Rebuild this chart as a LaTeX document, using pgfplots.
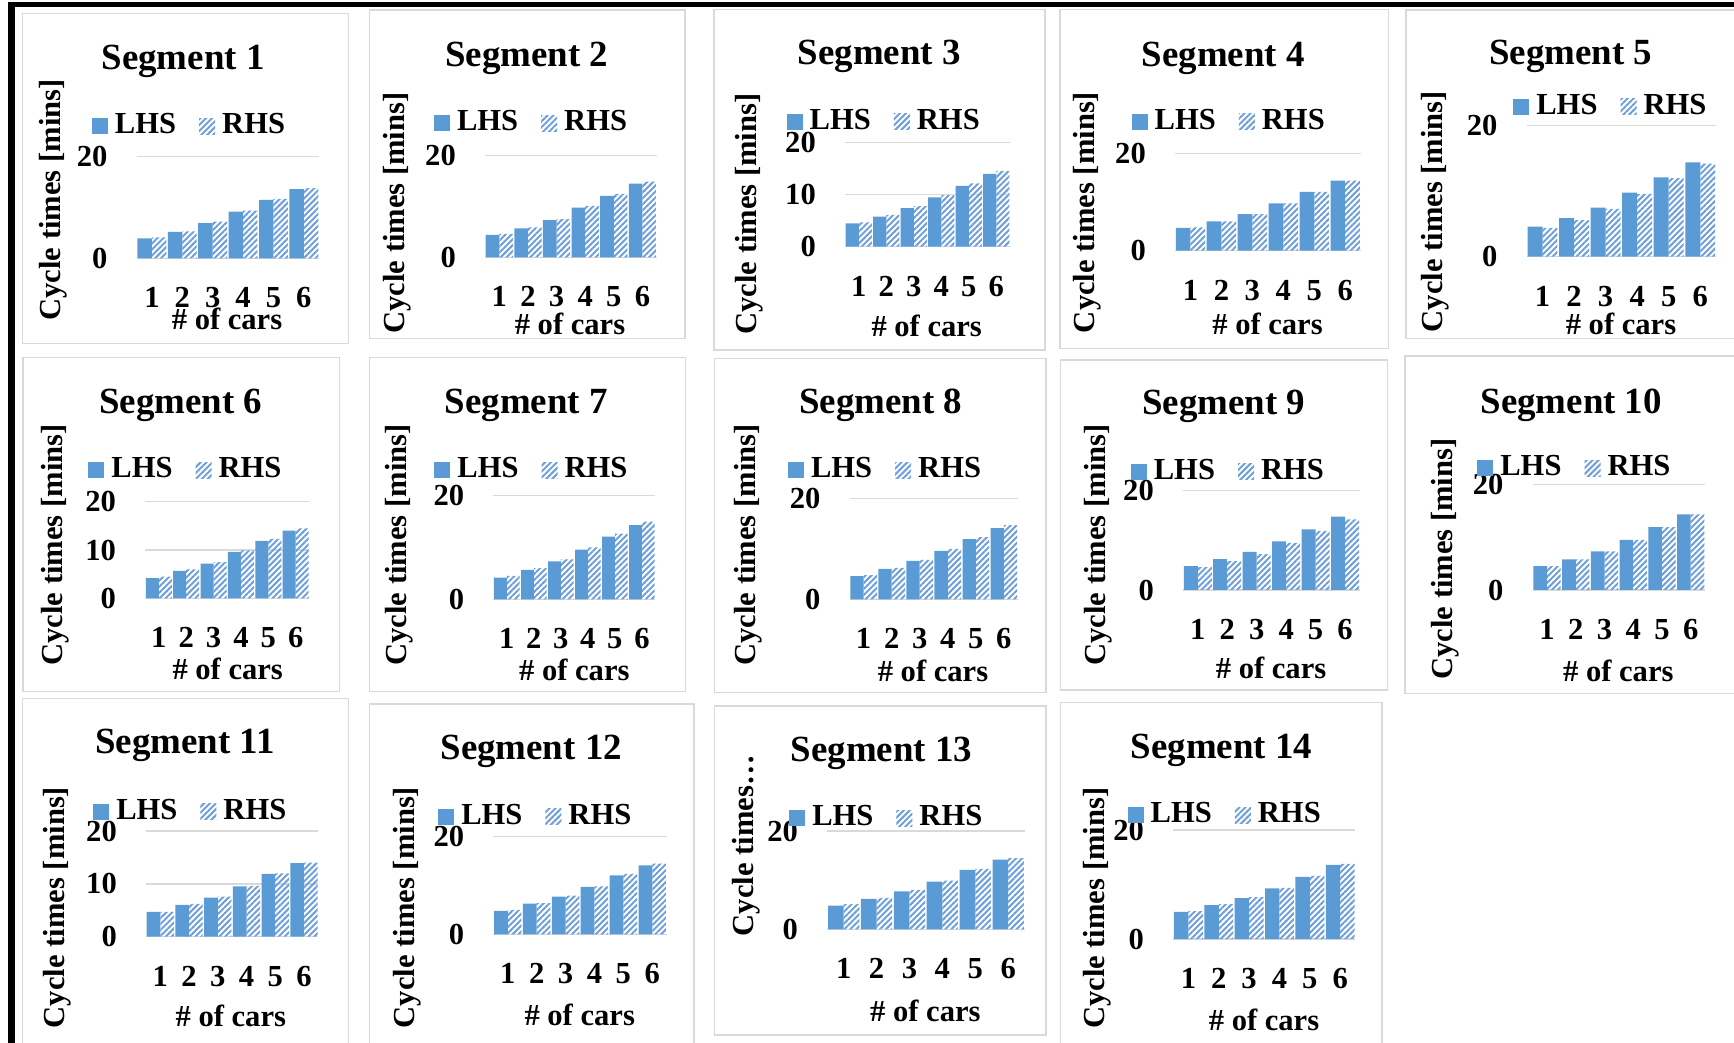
\documentclass[border=0pt]{standalone}
\usepackage{fontspec}
\setmainfont{Liberation Serif}
\usepackage{pgfplots}
\pgfplotsset{compat=1.18}
\usetikzlibrary{patterns.meta}

\definecolor{lhsblue}{HTML}{5B9BD5}
\definecolor{rhsblue}{HTML}{6F9FDB}
\definecolor{panelgray}{HTML}{D9D9D9}
\definecolor{gridgray}{HTML}{D9D9D9}

\newcommand\labfont{\fontsize{8.7}{10}\selectfont\bfseries}
\newcommand\titlefont{\fontsize{10.5}{12}\selectfont\bfseries}

% Panel geometry in units of 0.1 mm, measured from the top-left corner, y downwards
\pgfkeys{
  /seg/.is family,
  /seg/box/.code args={#1,#2,#3,#4}{\def\sgBL{#1}\def\sgBT{#2}\def\sgBR{#3}\def\sgBB{#4}},
  /seg/plot/.code args={#1,#2,#3,#4}{\def\sgPL{#1}\def\sgPR{#2}\def\sgPT{#3}\def\sgPB{#4}},
  /seg/title/.code args={#1,#2}{\def\sgTX{#1}\def\sgTY{#2}},
  /seg/legend/.code args={#1,#2}{\def\sgLX{#1}\def\sgLY{#2}},
  /seg/ylab/.code args={#1,#2}{\def\sgYX{#1}\def\sgYY{#2}},
  /seg/xlab/.code args={#1,#2}{\def\sgXX{#1}\def\sgXY{#2}},
}
% the legend box reaches below the text baseline by the font's descender
\def\sgLegDepth{6.2}
\newcommand\seggeom[1]{%
  \pgfqkeys{/seg}{#1}%
  \pgfmathsetmacro\sgW{(\sgPR-\sgPL)/10}%
  \pgfmathsetmacro\sgH{(\sgPB-\sgPT)/10}%
  \pgfmathsetmacro\sgTFX{(\sgTX-\sgPL)/(\sgPR-\sgPL)}%
  \pgfmathsetmacro\sgTFY{(\sgPB-\sgTY)/(\sgPB-\sgPT)}%
  \pgfmathsetmacro\sgLFX{(\sgLX-\sgPL)/(\sgPR-\sgPL)}%
  \pgfmathsetmacro\sgLFY{(\sgPB-\sgLY-\sgLegDepth)/(\sgPB-\sgPT)}%
  \pgfmathsetmacro\sgYFX{(\sgYX-\sgPL)/(\sgPR-\sgPL)}%
  \pgfmathsetmacro\sgYFY{(\sgPB-\sgYY)/(\sgPB-\sgPT)}%
  \pgfmathsetmacro\sgXFX{(\sgXX-\sgPL)/(\sgPR-\sgPL)}%
  \pgfmathsetmacro\sgXFY{(\sgPB-\sgXY)/(\sgPB-\sgPT)}%
  \draw[panelgray, line width=0.15mm] (\sgBL*0.1mm,-\sgBT*0.1mm) rectangle (\sgBR*0.1mm,-\sgBB*0.1mm);%
}

\pgfplotsset{
  segaxis/.style={
    scale only axis, width=\sgW mm, height=\sgH mm,
    at={(\sgPL*0.1mm,-\sgPB*0.1mm)}, anchor=south west,
    xmin=0.5, xmax=6.5, ymin=0, ymax=20,
    xtick={1,2,3,4,5,6},
    axis line style={draw=none},
    ymajorgrids, major grid style={gridgray, line width=0.15mm},
    major tick length=0pt,
    /pgf/number format/assume math mode=true,
    tick label style={font=\labfont},
    yticklabel style={anchor=east, inner sep=0pt, xshift=-2.85mm},
    xticklabel style={anchor=north, inner sep=0pt, yshift=-2.87mm},
    % cancel the default 6pt lift of the title
    title style={at={(axis description cs:\sgTFX,\sgTFY)}, anchor=base, yshift=-6pt, font=\titlefont, inner sep=0pt},
    xlabel={\# of cars},
    xlabel style={at={(axis description cs:\sgXFX,\sgXFY)}, anchor=base, font=\labfont, inner sep=0pt},
    ylabel={Cycle times [mins]},
    ylabel style={at={(axis description cs:\sgYFX,\sgYFY)}, anchor=center, font=\labfont, inner sep=0pt},
    legend columns=2, legend cell align=left,
    legend style={draw=none, fill=none, inner sep=0pt, outer sep=0pt,
      at={(axis description cs:\sgLFX,\sgLFY)}, anchor=south west,
      font=\labfont, nodes={inner sep=0pt},
      /tikz/every odd column/.append style={column sep=0.7mm},
      /tikz/every even column/.append style={column sep=2.3mm}},
  },
  lhsbar/.style={ybar, bar width=0.475, bar shift=-0.2375, fill=lhsblue, draw=none, forget plot},
  rhsbar/.style={ybar, bar width=0.475, bar shift=0.2375, draw=none, forget plot,
    pattern={Lines[angle=45,distance=0.42mm,line width=0.2mm]}, pattern color=rhsblue},
  lhsleg/.style={draw=none, mark=none, legend image code/.code={\path[draw=none, fill=lhsblue] (0mm,-0.8mm) rectangle (1.6mm,0.8mm);}},
  rhsleg/.style={draw=none, mark=none, legend image code/.code={\path[draw=none, pattern={Lines[angle=45,distance=0.42mm,line width=0.2mm]}, pattern color=rhsblue] (0mm,-0.8mm) rectangle (1.6mm,0.8mm);}},
}

\begin{document}
\begin{tikzpicture}
\useasboundingbox (0,0) rectangle (173.4mm,-104.3mm);
% outer frame (top and left edges)
\fill[black] (0.83mm,-0.25mm) rectangle (173.4mm,-0.67mm);
\fill[black] (0.83mm,-0.25mm) rectangle (1.5mm,-104.3mm);

% ---- row 1 ----
\seggeom{box={22.7,13.3,348.3,343.3}, plot={136.7,319,156.7,258.3}, title={183,70}, legend={92,133}, ylab={53,200}, xlab={227,330}}
\begin{axis}[segaxis, title={Segment 1}, ytick={0,20}]
\addplot[lhsbar] coordinates {(1,3.9) (2,5.2) (3,6.9) (4,9.2) (5,11.5) (6,13.6)};
\addplot[rhsbar] coordinates {(1,4.1) (2,5.3) (3,7.2) (4,9.4) (5,11.7) (6,13.8)};
\addlegendimage{lhsleg}\addlegendimage{rhsleg}\legend{LHS,RHS}
\end{axis}

\seggeom{box={369.3,10,685,338.3}, plot={485,656.7,155.7,257.3}, title={526.7,66.7}, legend={434,130}, ylab={396.7,213}, xlab={570,335}}
\begin{axis}[segaxis, title={Segment 2}, ytick={0,20}]
\addplot[lhsbar] coordinates {(1,4.4) (2,5.7) (3,7.3) (4,9.8) (5,12.1) (6,14.5)};
\addplot[rhsbar] coordinates {(1,4.6) (2,5.9) (3,7.5) (4,10.1) (5,12.5) (6,14.9)};
\addlegendimage{lhsleg}\addlegendimage{rhsleg}\legend{LHS,RHS}
\end{axis}

\seggeom{box={714,9.3,1045,350}, plot={845,1010,142.7,246.7}, title={879.2,65}, legend={786.7,128.3}, ylab={749,214}, xlab={926.7,336.7}}
\begin{axis}[segaxis, title={Segment 3}, ytick={0,10,20}]
\addplot[lhsbar] coordinates {(1,4.5) (2,5.8) (3,7.4) (4,9.5) (5,11.7) (6,14.0)};
\addplot[rhsbar] coordinates {(1,4.7) (2,6.1) (3,7.8) (4,9.9) (5,12.2) (6,14.6)};
\addlegendimage{lhsleg}\addlegendimage{rhsleg}\legend{LHS,RHS}
\end{axis}

\seggeom{box={1060,9.3,1388.3,348.3}, plot={1175,1360.7,153.3,250.7}, title={1223.3,66.7}, legend={1131.7,128.3}, ylab={1086.7,212.5}, xlab={1267.5,335}}
\begin{axis}[segaxis, title={Segment 4}, ytick={0,20}]
\addplot[lhsbar] coordinates {(1,4.7) (2,6.0) (3,7.5) (4,9.7) (5,12.1) (6,14.4)};
\addplot[rhsbar] coordinates {(1,4.8) (2,6.0) (3,7.5) (4,9.7) (5,12.1) (6,14.4)};
\addlegendimage{lhsleg}\addlegendimage{rhsleg}\legend{LHS,RHS}
\end{axis}

\seggeom{box={1406,10,1750,338.3}, plot={1526.7,1716,125.7,256.7}, title={1570.7,65}, legend={1513.3,113.3}, ylab={1435,211.7}, xlab={1621,335}}
\begin{axis}[segaxis, title={Segment 5}, ytick={0,20}]
\addplot[lhsbar] coordinates {(1,4.6) (2,5.9) (3,7.5) (4,9.8) (5,12.1) (6,14.4)};
\addplot[rhsbar] coordinates {(1,4.4) (2,5.6) (3,7.3) (4,9.6) (5,12.0) (6,14.2)};
\addlegendimage{lhsleg}\addlegendimage{rhsleg}\legend{LHS,RHS}
\end{axis}

% ---- row 2 ----
\seggeom{box={23.2,357.3,339.3,691.7}, plot={145.1,309.4,501.7,598.3}, title={180.8,413.3}, legend={88.4,476.7}, ylab={54.7,545}, xlab={227.7,680}}
\begin{axis}[segaxis, title={Segment 6}, ytick={0,10,20}]
\addplot[lhsbar] coordinates {(1,4.2) (2,5.7) (3,7.2) (4,9.6) (5,11.9) (6,14.0)};
\addplot[rhsbar] coordinates {(1,4.5) (2,6.0) (3,7.5) (4,9.9) (5,12.3) (6,14.5)};
\addlegendimage{lhsleg}\addlegendimage{rhsleg}\legend{LHS,RHS}
\end{axis}

\seggeom{box={369.6,357.3,685.3,691.7}, plot={493.3,655.4,495.7,599.3}, title={526.3,413.3}, legend={434.4,476.7}, ylab={399.6,545}, xlab={574.3,680}}
\begin{axis}[segaxis, title={Segment 7}, ytick={0,20}]
\addplot[lhsbar] coordinates {(1,4.2) (2,5.7) (3,7.3) (4,9.6) (5,12.1) (6,14.3)};
\addplot[rhsbar] coordinates {(1,4.5) (2,6.0) (3,7.7) (4,10.0) (5,12.7) (6,15.0)};
\addlegendimage{lhsleg}\addlegendimage{rhsleg}\legend{LHS,RHS}
\end{axis}

\seggeom{box={714.3,358.3,1046,692.7}, plot={849.6,1017.9,498.3,599.3}, title={880.8,413.3}, legend={788,476.7}, ylab={748,545}, xlab={933,681}}
\begin{axis}[segaxis, title={Segment 8}, ytick={0,20}]
\addplot[lhsbar] coordinates {(1,4.6) (2,6.0) (3,7.6) (4,9.6) (5,11.9) (6,14.1)};
\addplot[rhsbar] coordinates {(1,4.8) (2,6.2) (3,7.8) (4,10.0) (5,12.3) (6,14.7)};
\addlegendimage{lhsleg}\addlegendimage{rhsleg}\legend{LHS,RHS}
\end{axis}

\seggeom{box={1060.7,360,1387.5,690}, plot={1183,1359.8,490.7,590}, title={1223.8,415}, legend={1130.8,478.3}, ylab={1097.8,545}, xlab={1271,678.3}}
\begin{axis}[segaxis, title={Segment 9}, ytick={0,20}]
\addplot[lhsbar] coordinates {(1,4.8) (2,6.2) (3,7.7) (4,9.8) (5,12.2) (6,14.8)};
\addplot[rhsbar] coordinates {(1,4.6) (2,5.8) (3,7.2) (4,9.5) (5,11.9) (6,14.2)};
\addlegendimage{lhsleg}\addlegendimage{rhsleg}\legend{LHS,RHS}
\end{axis}

\seggeom{box={1405,356,1750,693.3}, plot={1532.7,1705,484.3,590}, title={1571.2,413.3}, legend={1477.3,475}, ylab={1445,559}, xlab={1618.3,681.7}}
\begin{axis}[segaxis, title={Segment 10}, ytick={0,20}]
\addplot[lhsbar] coordinates {(1,4.5) (2,5.8) (3,7.3) (4,9.5) (5,11.9) (6,14.3)};
\addplot[rhsbar] coordinates {(1,4.5) (2,5.8) (3,7.3) (4,9.5) (5,11.9) (6,14.3)};
\addlegendimage{lhsleg}\addlegendimage{rhsleg}\legend{LHS,RHS}
\end{axis}

% ---- row 3 ----
\seggeom{box={22.7,698.3,348.3,1060}, plot={146,318.3,831,936.7}, title={185,753.3}, legend={93.3,818.3}, ylab={57.5,907.5}, xlab={230.8,1026.7}}
\begin{axis}[segaxis, title={Segment 11}, ytick={0,10,20}]
\addplot[lhsbar] coordinates {(1,4.7) (2,6.0) (3,7.4) (4,9.5) (5,11.9) (6,13.9)};
\addplot[rhsbar] coordinates {(1,4.7) (2,6.2) (3,7.6) (4,9.6) (5,12.0) (6,14.0)};
\addlegendimage{lhsleg}\addlegendimage{rhsleg}\legend{LHS,RHS}
\end{axis}

\seggeom{box={369.3,704,694,1060}, plot={493.3,666.7,836.7,934.3}, title={531.2,760}, legend={438.3,823.3}, ylab={406.7,907.5}, xlab={579.7,1025}}
\begin{axis}[segaxis, title={Segment 12}, ytick={0,20}]
\addplot[lhsbar] coordinates {(1,4.8) (2,6.3) (3,7.7) (4,9.7) (5,12.1) (6,14.1)};
\addplot[rhsbar] coordinates {(1,5.0) (2,6.4) (3,7.9) (4,9.8) (5,12.4) (6,14.5)};
\addlegendimage{lhsleg}\addlegendimage{rhsleg}\legend{LHS,RHS}
\end{axis}

\seggeom{box={714.3,706,1046,1035}, plot={827.2,1024.6,831,929.3}, title={881.4,761.7}, legend={789.3,825}, ylab={745.8,845.8}, xlab={925.4,1021.7}}
\begin{axis}[segaxis, title={Segment 13}, ytick={0,20}, ylabel={Cycle times…}]
\addplot[lhsbar] coordinates {(1,4.8) (2,6.2) (3,7.7) (4,9.7) (5,12.1) (6,14.2)};
\addplot[rhsbar] coordinates {(1,5.1) (2,6.4) (3,8.0) (4,9.9) (5,12.3) (6,14.5)};
\addlegendimage{lhsleg}\addlegendimage{rhsleg}\legend{LHS,RHS}
\end{axis}

\seggeom{box={1060.7,702.7,1382.1,1060}, plot={1173.2,1355.4,830,939}, title={1221.4,758.3}, legend={1127.7,821.7}, ylab={1096.7,908.3}, xlab={1264,1030}}
\begin{axis}[segaxis, title={Segment 14}, ytick={0,20}]
\addplot[lhsbar] coordinates {(1,5.0) (2,6.2) (3,7.5) (4,9.3) (5,11.4) (6,13.6)};
\addplot[rhsbar] coordinates {(1,5.1) (2,6.4) (3,7.7) (4,9.4) (5,11.6) (6,13.8)};
\addlegendimage{lhsleg}\addlegendimage{rhsleg}\legend{LHS,RHS}
\end{axis}
\end{tikzpicture}
\end{document}
